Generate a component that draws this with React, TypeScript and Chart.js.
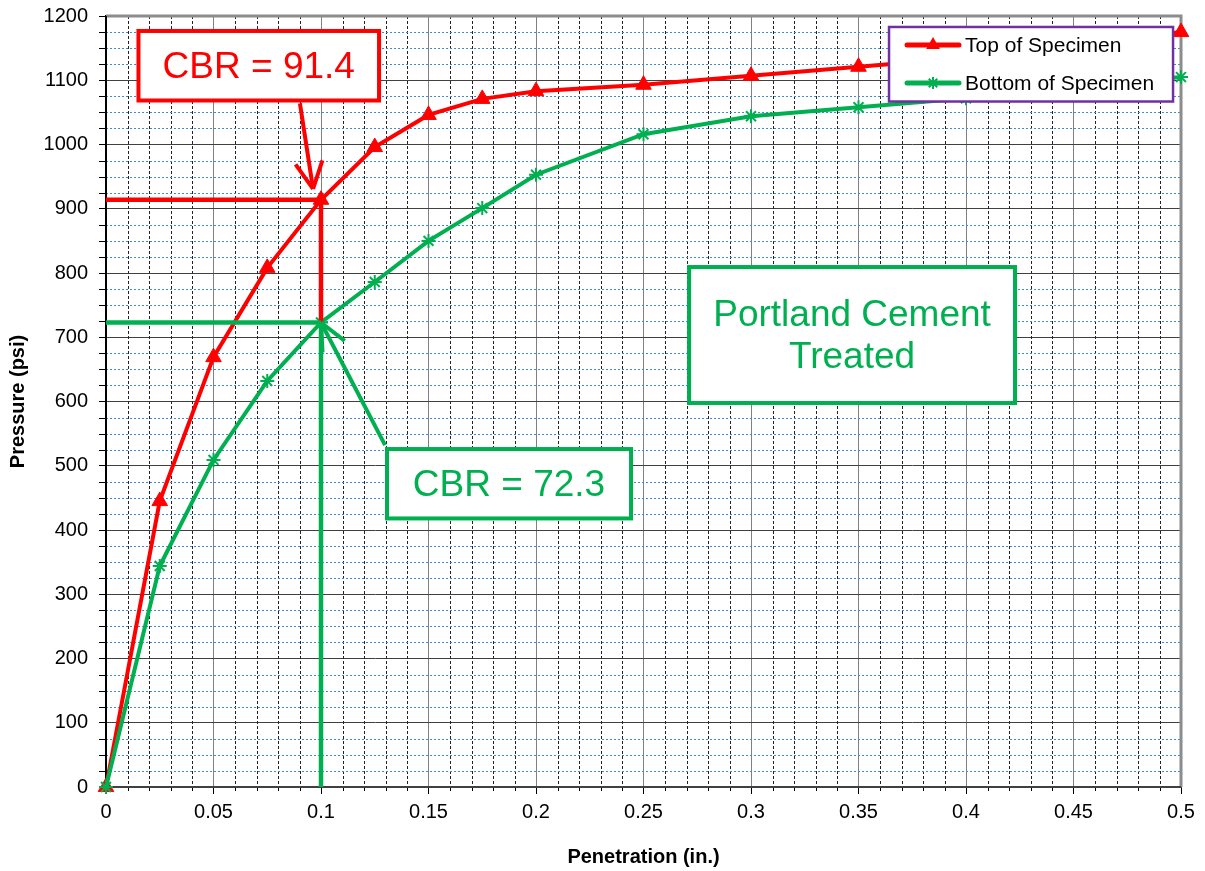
import React, { useEffect, useRef } from 'react';
import { Chart, registerables } from 'chart.js';

Chart.register(...registerables);

// ---------- data ----------
const penetration = [0, 0.025, 0.05, 0.075, 0.1, 0.125, 0.15, 0.175, 0.2, 0.25, 0.3, 0.35, 0.4, 0.5];
const topPressure = [0, 445, 669, 808, 914, 996, 1046, 1071, 1083, 1093, 1107, 1121, 1135, 1175];
const bottomPressure = [0, 344, 509, 632, 723, 786, 850, 901, 953, 1016, 1044, 1058, 1072, 1105];
const seriesLabels = ['Top of Specimen', 'Bottom of Specimen'];
const xTickLabels = ['0', '0.05', '0.1', '0.15', '0.2', '0.25', '0.3', '0.35', '0.4', '0.45', '0.5'];
const yTickLabels = ['0', '100', '200', '300', '400', '500', '600', '700', '800', '900', '1000', '1100', '1200'];
const cbrTop = 91.4;
const cbrBottom = 72.3;
const cbrPenetration = 0.1;
const standardPressure = 1000; // psi at 0.1 in.
const noteLines = ['Portland Cement', 'Treated'];

const RED = '#ff0000';
const GREEN = '#00b050';
const PURPLE = '#7030a0';
const FONT = "'Liberation Sans', Arial, sans-serif";

function line(ctx: CanvasRenderingContext2D, x1: number, y1: number, x2: number, y2: number) {
  ctx.beginPath();
  ctx.moveTo(x1, y1);
  ctx.lineTo(x2, y2);
  ctx.stroke();
}

function arrow(ctx: CanvasRenderingContext2D, x1: number, y1: number, x2: number, y2: number, head: number, ang: number) {
  line(ctx, x1, y1, x2, y2);
  const a = Math.atan2(y1 - y2, x1 - x2);
  line(ctx, x2, y2, x2 + Math.cos(a + ang) * head, y2 + Math.sin(a + ang) * head);
  line(ctx, x2, y2, x2 + Math.cos(a - ang) * head, y2 + Math.sin(a - ang) * head);
}

function textBox(ctx: CanvasRenderingContext2D, x0: number, y0: number, x1: number, y1: number, color: string, lines: string[], size: number, lh: number) {
  ctx.fillStyle = '#fff';
  ctx.fillRect(x0, y0, x1 - x0, y1 - y0);
  ctx.strokeStyle = color;
  ctx.lineWidth = 4;
  ctx.strokeRect(x0, y0, x1 - x0, y1 - y0);
  ctx.fillStyle = color;
  ctx.font = `${size}px ${FONT}`;
  ctx.textAlign = 'center';
  ctx.textBaseline = 'middle';
  const cx = (x0 + x1) / 2;
  const cy = (y0 + y1) / 2;
  lines.forEach((t, i) => {
    ctx.fillText(t, cx, cy + (i - (lines.length - 1) / 2) * lh + 2);
  });
}

const decorPlugin = {
  id: 'decor',
  beforeDatasetsDraw(chart: any) {
    const { ctx, chartArea: a } = chart;
    const xs = chart.scales.x;
    const ys = chart.scales.y;
    ctx.save();
    ctx.lineWidth = 1;
    // minor vertical grid
    ctx.strokeStyle = '#222';
    ctx.setLineDash([3, 2]);
    for (let i = 1; i < 50; i++) {
      if (i % 5 === 0) continue;
      const px = Math.round(xs.getPixelForValue(i / 100)) + 0.5;
      line(ctx, px, a.top, px, a.bottom);
    }
    // minor horizontal grid
    ctx.strokeStyle = '#3b8bd6';
    ctx.setLineDash([2, 2]);
    for (let v = 25; v < 1200; v += 25) {
      if (v % 100 === 0) continue;
      const py = Math.round(ys.getPixelForValue(v)) + 0.5;
      line(ctx, a.left, py, a.right, py);
    }
    ctx.setLineDash([]);
    // minor ticks
    ctx.strokeStyle = '#000';
    for (let i = 1; i < 50; i++) {
      if (i % 5 === 0) continue;
      const px = Math.round(xs.getPixelForValue(i / 100)) + 0.5;
      line(ctx, px, a.bottom, px, a.bottom + 4);
    }
    for (let v = 25; v < 1200; v += 25) {
      if (v % 100 === 0) continue;
      const py = Math.round(ys.getPixelForValue(v)) + 0.5;
      line(ctx, a.left - 7, py, a.left, py);
    }
    // frame
    ctx.strokeStyle = '#8c8c8c';
    ctx.lineWidth = 3;
    ctx.beginPath();
    ctx.moveTo(a.left, a.top);
    ctx.lineTo(a.right, a.top);
    ctx.lineTo(a.right, a.bottom);
    ctx.stroke();
    ctx.lineWidth = 2;
    ctx.strokeStyle = '#404040';
    line(ctx, a.left, a.bottom, a.right, a.bottom);
    ctx.strokeStyle = '#000';
    line(ctx, a.left, a.top, a.left, a.bottom);
    ctx.restore();
  },
  afterDatasetsDraw(chart: any) {
    const { ctx } = chart;
    const xs = chart.scales.x;
    const ys = chart.scales.y;
    const X = (v: number) => xs.getPixelForValue(v);
    const Y = (v: number) => ys.getPixelForValue(v);
    const pTop = (cbrTop * standardPressure) / 100;
    const pBot = (cbrBottom * standardPressure) / 100;
    ctx.save();
    ctx.lineCap = 'butt';
    ctx.lineWidth = 4.5;
    ctx.strokeStyle = RED;
    line(ctx, X(0), Y(pTop), X(cbrPenetration), Y(pTop));
    line(ctx, X(cbrPenetration), Y(pTop), X(cbrPenetration), Y(pBot));
    ctx.strokeStyle = GREEN;
    line(ctx, X(0), Y(pBot), X(cbrPenetration), Y(pBot));
    line(ctx, X(cbrPenetration), Y(pBot), X(cbrPenetration), Y(0));
    // arrows
    ctx.lineWidth = 4;
    ctx.strokeStyle = RED;
    arrow(ctx, X(0.0902), Y(1064), X(0.0963), Y(931), 30, 0.47);
    ctx.strokeStyle = GREEN;
    arrow(ctx, X(0.1298), Y(532), X(cbrPenetration), Y(pBot), 30, 0.43);
    // text boxes
    textBox(ctx, X(0.0151), Y(1176.7), X(0.127), Y(1068.5), RED, [`CBR = ${cbrTop}`], 37, 42);
    textBox(ctx, X(0.1307), Y(526), X(0.2442), Y(418), GREEN, [`CBR = ${cbrBottom}`], 37, 42);
    textBox(ctx, X(0.2712), Y(809.3), X(0.4228), Y(597.7), GREEN, noteLines, 37, 42);
    // legend
    const lx0 = X(0.3642), lx1 = X(0.4963), ly0 = Y(1182.9), ly1 = Y(1066.9);
    ctx.fillStyle = '#fff';
    ctx.fillRect(lx0, ly0, lx1 - lx0, ly1 - ly0);
    ctx.strokeStyle = PURPLE;
    ctx.lineWidth = 2.5;
    ctx.strokeRect(lx0, ly0, lx1 - lx0, ly1 - ly0);
    const colors = [RED, GREEN];
    const rowY = [ly0 + 18, ly0 + 56];
    seriesLabels.forEach((lab, i) => {
      const yy = rowY[i];
      ctx.strokeStyle = colors[i];
      ctx.lineWidth = 5;
      ctx.lineCap = 'round';
      line(ctx, lx0 + 18, yy, lx0 + 70, yy);
      ctx.lineCap = 'butt';
      const cx = lx0 + 44;
      if (i === 0) {
        const r = 8;
        ctx.fillStyle = RED;
        ctx.beginPath();
        ctx.moveTo(cx, yy - r);
        ctx.lineTo(cx + r * 0.866, yy + r * 0.5);
        ctx.lineTo(cx - r * 0.866, yy + r * 0.5);
        ctx.closePath();
        ctx.fill();
      } else {
        const r = 6;
        ctx.lineWidth = 2;
        line(ctx, cx - r, yy, cx + r, yy);
        line(ctx, cx, yy - r, cx, yy + r);
        const d = r * 0.707;
        line(ctx, cx - d, yy - d, cx + d, yy + d);
        line(ctx, cx - d, yy + d, cx + d, yy - d);
      }
      ctx.fillStyle = '#000';
      ctx.font = `21px ${FONT}`;
      ctx.textAlign = 'left';
      ctx.textBaseline = 'middle';
      ctx.fillText(lab, lx0 + 76, yy + 1);
    });
    ctx.restore();
  },
};

export default function App() {
  const ref = useRef<HTMLCanvasElement | null>(null);
  useEffect(() => {
    if (!ref.current) return;
    const chart = new Chart(ref.current, {
      type: 'line',
      data: {
        datasets: [
          {
            label: seriesLabels[0],
            data: penetration.map((p, i) => ({ x: p, y: topPressure[i] })),
            borderColor: RED,
            backgroundColor: RED,
            borderWidth: 4,
            pointStyle: 'triangle',
            pointRadius: 9,
            pointBackgroundColor: RED,
            pointBorderColor: RED,
            pointBorderWidth: 1,
            tension: 0,
            clip: false as any,
            order: 1,
          },
          {
            label: seriesLabels[1],
            data: penetration.map((p, i) => ({ x: p, y: bottomPressure[i] })),
            borderColor: GREEN,
            backgroundColor: GREEN,
            borderWidth: 4,
            pointStyle: 'star',
            pointRadius: 7,
            pointBorderColor: GREEN,
            pointBorderWidth: 2,
            tension: 0,
            clip: false as any,
            order: 0,
          },
        ],
      },
      options: {
        animation: false,
        responsive: true,
        maintainAspectRatio: false,
        layout: { padding: { top: 16, right: 24, left: 0, bottom: 0 } },
        plugins: { legend: { display: false }, tooltip: { enabled: false } },
        scales: {
          x: {
            type: 'linear',
            min: 0,
            max: 0.5,
            afterFit: (s: any) => {
              s.height = 84;
              s.paddingLeft = 0;
              s.paddingRight = 0;
            },
            ticks: {
              stepSize: 0.05,
              autoSkip: false,
              maxRotation: 0,
              padding: 6,
              color: '#000',
              font: { family: FONT, size: 20 },
              callback: (_v: any, i: number) => xTickLabels[i],
            },
            grid: { color: '#808080', lineWidth: 1, tickLength: 7, tickColor: '#000' },
            border: { color: '#404040', width: 2 },
            title: {
              display: true,
              text: 'Penetration (in.)',
              color: '#000',
              font: { family: FONT, size: 20, weight: 'bold' },
              padding: { top: 0, bottom: 2 },
            },
          },
          y: {
            type: 'linear',
            min: 0,
            max: 1200,
            afterFit: (s: any) => {
              s.width = 106;
              s.paddingTop = 0;
              s.paddingBottom = 0;
            },
            ticks: {
              stepSize: 100,
              padding: 11,
              color: '#000',
              font: { family: FONT, size: 20 },
              callback: (_v: any, i: number) => yTickLabels[i],
            },
            grid: { color: '#404040', lineWidth: 1, tickLength: 7, tickColor: '#000' },
            border: { color: '#000', width: 2 },
            title: {
              display: true,
              text: 'Pressure (psi)',
              color: '#000',
              font: { family: FONT, size: 20, weight: 'bold' },
              padding: { top: 6, bottom: 0 },
            },
          },
        },
      } as any,
      plugins: [decorPlugin],
    });
    return () => chart.destroy();
  }, []);
  return (
    <div style={{ position: 'fixed', left: 0, top: 0, width: 1205, height: 871, background: '#fff' }}>
      <canvas ref={ref} />
    </div>
  );
}
